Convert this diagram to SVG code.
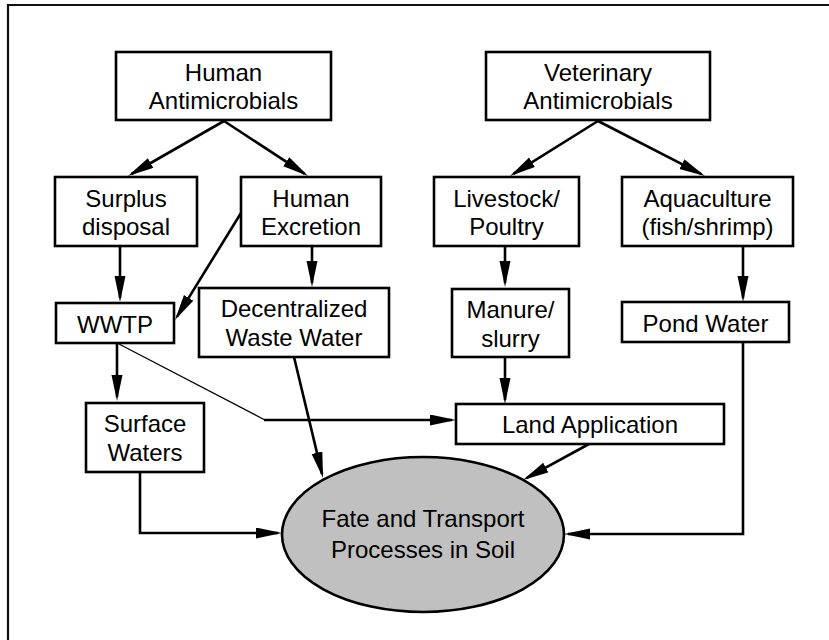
<svg xmlns="http://www.w3.org/2000/svg" width="829" height="640" viewBox="0 0 829 640">
<style>
.box{fill:#fff;stroke:#000;stroke-width:2.6}
.t{font-family:"Liberation Sans",Arial,sans-serif;font-size:24px;fill:#000;text-anchor:middle}
.c{fill:none;stroke:#000;stroke-width:2.6}
.thin{fill:none;stroke:#000;stroke-width:1.3}
</style>
<defs>
<marker id="ah" markerUnits="userSpaceOnUse" markerWidth="26" markerHeight="12" refX="22" refY="5.5" orient="auto">
<path d="M0,0 L26,5.5 L0,11 z" fill="#000"/>
</marker>
</defs>
<rect width="829" height="640" fill="#fff"/>
<path d="M8,640 V5 H829" fill="none" stroke="#111" stroke-width="2.2"/>

<g id="connectors">
<line class="c" x1="224" y1="121" x2="131.5" y2="174" marker-end="url(#ah)"/>
<line class="c" x1="224" y1="121" x2="304.7" y2="173.8" marker-end="url(#ah)"/>
<line class="c" x1="120" y1="246" x2="120" y2="298" marker-end="url(#ah)"/>
<line class="c" x1="241" y1="213" x2="177.1" y2="316.6" marker-end="url(#ah)"/>
<line class="c" x1="312" y1="246" x2="312" y2="283" marker-end="url(#ah)"/>
<line class="c" x1="117" y1="343" x2="117" y2="397" marker-end="url(#ah)"/>
<line class="thin" x1="119" y1="344" x2="265" y2="420"/>
<line class="c" x1="264" y1="420" x2="452" y2="420" marker-end="url(#ah)"/>
<line class="c" x1="294" y1="357" x2="322.1" y2="474.1" marker-end="url(#ah)"/>
<path class="c" d="M140,472 V533 H278" marker-end="url(#ah)"/>
<line class="c" x1="505" y1="246" x2="505" y2="283" marker-end="url(#ah)"/>
<line class="c" x1="505" y1="357" x2="505" y2="400" marker-end="url(#ah)"/>
<line class="c" x1="598" y1="121" x2="513.4" y2="173.9" marker-end="url(#ah)"/>
<line class="c" x1="598" y1="121" x2="701.4" y2="174.2" marker-end="url(#ah)"/>
<line class="c" x1="743" y1="246" x2="743" y2="298" marker-end="url(#ah)"/>
<path class="c" d="M743,342 V534 H568" marker-end="url(#ah)"/>
<line class="c" x1="589" y1="444" x2="526.5" y2="478.1" marker-end="url(#ah)"/>
</g>

<g id="human-antimicrobials">
<rect class="box" x="116" y="52" width="215" height="68"/>
<text class="t" x="223.5" y="81">Human</text>
<text class="t" x="223.5" y="109">Antimicrobials</text>
</g>
<g id="veterinary-antimicrobials">
<rect class="box" x="486" y="52" width="224" height="68"/>
<text class="t" x="598" y="81">Veterinary</text>
<text class="t" x="598" y="109">Antimicrobials</text>
</g>
<g id="surplus-disposal">
<rect class="box" x="55" y="177" width="142" height="69"/>
<text class="t" x="126" y="207">Surplus</text>
<text class="t" x="126" y="235">disposal</text>
</g>
<g id="human-excretion">
<rect class="box" x="241" y="177" width="140" height="69"/>
<text class="t" x="311" y="207">Human</text>
<text class="t" x="311" y="235">Excretion</text>
</g>
<g id="livestock-poultry">
<rect class="box" x="434" y="177" width="145" height="69"/>
<text class="t" x="506.5" y="207">Livestock/</text>
<text class="t" x="506.5" y="235">Poultry</text>
</g>
<g id="aquaculture">
<rect class="box" x="622" y="177" width="171" height="69"/>
<text class="t" x="707.5" y="207">Aquaculture</text>
<text class="t" x="707.5" y="235">(fish/shrimp)</text>
</g>
<g id="wwtp">
<rect class="box" x="56" y="303" width="118" height="40"/>
<text class="t" x="115" y="333">WWTP</text>
</g>
<g id="decentralized-waste-water">
<rect class="box" x="199" y="288" width="190" height="69"/>
<text class="t" x="294" y="317">Decentralized</text>
<text class="t" x="294" y="346">Waste Water</text>
</g>
<g id="manure-slurry">
<rect class="box" x="452" y="289" width="117" height="68"/>
<text class="t" x="510.5" y="318">Manure/</text>
<text class="t" x="510.5" y="347">slurry</text>
</g>
<g id="pond-water">
<rect class="box" x="622" y="302" width="167" height="40"/>
<text class="t" x="705.5" y="332">Pond Water</text>
</g>
<g id="surface-waters">
<rect class="box" x="86" y="403" width="118" height="69"/>
<text class="t" x="145" y="432">Surface</text>
<text class="t" x="145" y="461">Waters</text>
</g>
<g id="land-application">
<rect class="box" x="456" y="404" width="268" height="40"/>
<text class="t" x="590" y="433">Land Application</text>
</g>
<g id="fate-transport">
<ellipse cx="423" cy="534.5" rx="141" ry="77.5" fill="#c0c0c0" stroke="#000" stroke-width="2.6"/>
<text class="t" x="423" y="527" fill="#111">Fate and Transport</text>
<text class="t" x="423" y="558" fill="#111">Processes in Soil</text>
</g>
</svg>
